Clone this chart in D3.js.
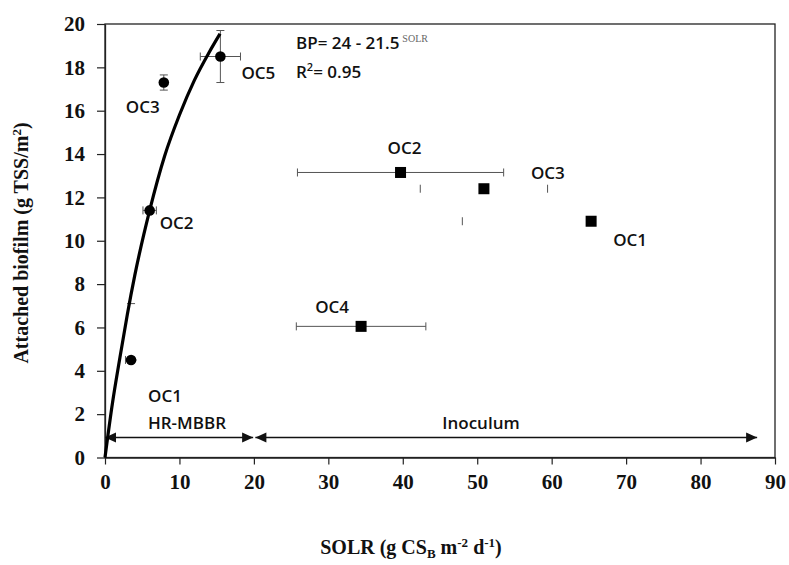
<!DOCTYPE html>
<html>
<head>
<meta charset="utf-8">
<script src="https://cdn.jsdelivr.net/npm/d3@7"></script>
<style>
  html, body { margin: 0; padding: 0; background: #fff; }
  svg { display: block; }
</style>
</head>
<body>
<svg id="chart" width="789" height="565"></svg>
<script>
// ---- data ----
const xTicks = [0, 10, 20, 30, 40, 50, 60, 70, 80, 90];
const yTicks = [0, 2, 4, 6, 8, 10, 12, 14, 16, 18, 20];

// HR-MBBR (circles)
const hrLabels = ["OC1", "OC2", "OC3", "OC5"];
const hrX      = [3.5, 6.0, 7.9, 15.5];
const hrY      = [4.5, 11.4, 17.3, 18.5];
const hrXErr   = [0.75, 0.9, 0, 2.7];
const hrYErr   = [2.6, 0, 0.35, 1.2];

// Inoculum (squares)
const inLabels = ["OC1", "OC2", "OC3", "OC4"];
const inX      = [65.3, 39.7, 50.9, 34.4];
const inY      = [10.9, 13.15, 12.4, 6.05];
const inXErr   = [17.3, 13.85, 8.55, 8.7];

// fitted curve
const fitX = [0, 1, 2, 3, 4, 6, 8, 10, 12, 14, 15.45];
const fitY = [0, 2.5, 4.6, 6.6, 8.4, 11.4, 13.9, 15.8, 17.4, 18.7, 19.55];

// range arrows
const hrRange  = [0, 19.9];
const inRange  = [20.2, 87.6];
const arrowY   = 0.92;

// ---- layout ----
const svg = d3.select("#chart");
const x = d3.scaleLinear().domain([0, 90]).range([105, 775]);
const y = d3.scaleLinear().domain([0, 20]).range([457.5, 24]);

const serif = "'Liberation Serif','Times New Roman',serif";
const sans = "'Open Sans','Liberation Sans',sans-serif";
const errColor = "#555";

// frame
svg.append("rect")
  .attr("x", x(0)).attr("y", y(20))
  .attr("width", x(90) - x(0)).attr("height", y(0) - y(20))
  .attr("fill", "none").attr("stroke", "#222").attr("stroke-width", 1.3);

// axes
const xAxis = d3.axisBottom(x).tickValues(xTicks).tickSize(7).tickSizeOuter(0).tickPadding(10);
const gx = svg.append("g").attr("transform", `translate(0,${y(0)})`).call(xAxis);
gx.select(".domain").attr("stroke", "#222").attr("stroke-width", 1.3);
gx.selectAll(".tick line").attr("stroke", "#222").attr("stroke-width", 1.2);
gx.selectAll(".tick text").attr("font-family", serif).attr("font-weight", "bold")
  .attr("font-size", 21).attr("fill", "#111");

const yAxis = d3.axisLeft(y).tickValues(yTicks).tickSize(8).tickSizeOuter(0).tickPadding(12);
const gy = svg.append("g").attr("transform", `translate(${x(0)},0)`).call(yAxis);
gy.select(".domain").attr("stroke", "#222").attr("stroke-width", 1.3);
gy.selectAll(".tick line").attr("stroke", "#222").attr("stroke-width", 1.2);
gy.selectAll(".tick text").attr("font-family", serif).attr("font-weight", "bold")
  .attr("font-size", 21).attr("fill", "#111");

// axis titles
const yt = svg.append("text")
  .attr("transform", "translate(28,243) rotate(-90)")
  .attr("text-anchor", "middle")
  .attr("font-family", serif).attr("font-weight", "bold").attr("font-size", 20).attr("fill", "#111");
yt.append("tspan").text("Attached biofilm (g TSS/m");
yt.append("tspan").attr("font-size", 13).attr("dy", -7).text("2");
yt.append("tspan").attr("dy", 7).text(")");

const xt = svg.append("text")
  .attr("x", 411).attr("y", 554)
  .attr("text-anchor", "middle")
  .attr("font-family", serif).attr("font-weight", "bold").attr("font-size", 20).attr("fill", "#111");
xt.append("tspan").text("SOLR (g CS");
xt.append("tspan").attr("font-size", 13).attr("dy", 4).text("B");
xt.append("tspan").attr("dy", -4).text(" m");
xt.append("tspan").attr("font-size", 13).attr("dy", -7).text("-2");
xt.append("tspan").attr("dy", 7).text(" d");
xt.append("tspan").attr("font-size", 13).attr("dy", -7).text("-1");
xt.append("tspan").attr("dy", 7).text(")");

// range arrows
function arrowHead(px, py, dir) {
  const L = 11, H = 5;
  svg.append("path")
    .attr("d", `M${px},${py} L${px - dir * L},${py - H} L${px - dir * L},${py + H} Z`)
    .attr("fill", "#111");
}
[hrRange, inRange].forEach(r => {
  svg.append("line")
    .attr("x1", x(r[0])).attr("x2", x(r[1]))
    .attr("y1", y(arrowY)).attr("y2", y(arrowY))
    .attr("stroke", "#111").attr("stroke-width", 1.5);
  arrowHead(x(r[0]), y(arrowY), -1);
  arrowHead(x(r[1]), y(arrowY), 1);
});

// error bars
function hBar(cx, cy, e, showLine, showLeft, showRight) {
  if (e <= 0) return;
  const x1 = x(cx - e), x2 = x(cx + e), py = y(cy);
  if (showLine) svg.append("line").attr("x1", x1).attr("x2", x2).attr("y1", py).attr("y2", py)
    .attr("stroke", errColor).attr("stroke-width", 1);
  if (showLeft) svg.append("line").attr("x1", x1).attr("x2", x1).attr("y1", py - 4).attr("y2", py + 4)
    .attr("stroke", errColor).attr("stroke-width", 1);
  if (showRight) svg.append("line").attr("x1", x2).attr("x2", x2).attr("y1", py - 4).attr("y2", py + 4)
    .attr("stroke", errColor).attr("stroke-width", 1);
}
function vBar(cx, cy, e, showLine, showLow) {
  if (e <= 0) return;
  const px = x(cx), y1 = y(cy + e), y2 = y(cy - e);
  if (showLine) svg.append("line").attr("x1", px).attr("x2", px).attr("y1", y1).attr("y2", y2)
    .attr("stroke", errColor).attr("stroke-width", 1);
  svg.append("line").attr("x1", px - 4).attr("x2", px + 4).attr("y1", y1).attr("y2", y1)
    .attr("stroke", errColor).attr("stroke-width", 1);
  if (showLow) svg.append("line").attr("x1", px - 4).attr("x2", px + 4).attr("y1", y2).attr("y2", y2)
    .attr("stroke", errColor).attr("stroke-width", 1);
}

// HR-MBBR error bars
hrX.forEach((v, i) => {
  hBar(v, hrY[i], hrXErr[i], true, true, i !== 0);
  vBar(v, hrY[i], hrYErr[i], i !== 0, i !== 0);
});
// Inoculum error bars (some printed with caps only)
const inLineShown = [false, true, false, true];
const inLeftCap   = [true, true, true, true];
const inRightCap  = [false, true, true, true];
inX.forEach((v, i) => hBar(v, inY[i], inXErr[i], inLineShown[i], inLeftCap[i], inRightCap[i]));

// fitted curve
const line = d3.line().x(d => x(d[0])).y(d => y(d[1])).curve(d3.curveMonotoneX);
svg.append("path")
  .datum(fitX.map((v, i) => [v, fitY[i]]))
  .attr("d", line)
  .attr("fill", "none").attr("stroke", "#000").attr("stroke-width", 3.2);

// markers
svg.selectAll("circle.hr").data(hrX).enter().append("circle")
  .attr("cx", d => x(d)).attr("cy", (d, i) => y(hrY[i])).attr("r", 5.3).attr("fill", "#000");
const sq = 11;
svg.selectAll("rect.in").data(inX).enter().append("rect")
  .attr("x", d => x(d) - sq / 2).attr("y", (d, i) => y(inY[i]) - sq / 2)
  .attr("width", sq).attr("height", sq).attr("fill", "#000");

// labels (offsets in px from the point)
const hrLabelOffset = [[34, 36], [27, 13], [-21, 25], [38, 17]];
const inLabelOffset = [[39, 19], [4, -24], [64, -16], [-29, -19]];
function label(px, py, txt) {
  svg.append("text").attr("x", px).attr("y", py).attr("dy", "0.35em")
    .attr("text-anchor", "middle")
    .attr("font-family", sans).attr("font-weight", 600).attr("font-size", 17).attr("fill", "#111").text(txt);
}
hrLabels.forEach((t, i) => label(x(hrX[i]) + hrLabelOffset[i][0], y(hrY[i]) + hrLabelOffset[i][1], t));
inLabels.forEach((t, i) => label(x(inX[i]) + inLabelOffset[i][0], y(inY[i]) + inLabelOffset[i][1], t));

label(187, y(arrowY) - 15, "HR-MBBR");
label(481, y(arrowY) - 15, "Inoculum");

// equation
const eq = svg.append("text").attr("x", 296).attr("y", 49)
  .attr("font-family", sans).attr("font-weight", 600).attr("font-size", 17).attr("fill", "#111");
eq.append("tspan").text("BP= 24 - 21.5");
eq.append("tspan").attr("font-family", serif).attr("font-weight", "normal").attr("font-size", 10)
  .attr("fill", "#666").attr("dx", 3).attr("dy", -7).text("SOLR");
const r2 = svg.append("text").attr("x", 296).attr("y", 78)
  .attr("font-family", sans).attr("font-weight", 600).attr("font-size", 17).attr("fill", "#111");
r2.append("tspan").text("R");
r2.append("tspan").attr("font-size", 11).attr("dy", -7).text("2");
r2.append("tspan").attr("dy", 7).text("= 0.95");
</script>
</body>
</html>
